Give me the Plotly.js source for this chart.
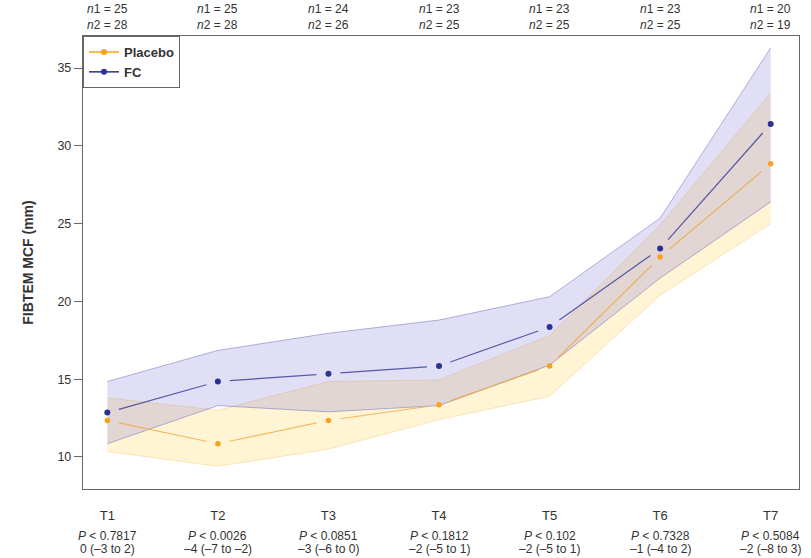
<!DOCTYPE html>
<html>
<head>
<meta charset="utf-8">
<script src="https://cdn.plot.ly/plotly-3.0.1.min.js"></script>
<style>html,body{margin:0;padding:0;background:#fff;}#chart{width:811px;height:558px;}</style>
</head>
<body>
<div id="chart"></div>
<script>
// ---- data ----
var timepoints = ["T1", "T2", "T3", "T4", "T5", "T6", "T7"];
var placeboMean  = [12.35, 10.85, 12.35, 13.35, 15.85, 22.85, 28.85];
var placeboUpper = [13.8, 13.0, 14.85, 14.95, 17.8, 24.9, 33.4];
var placeboLower = [10.35, 9.4, 10.5, 12.4, 13.9, 20.4, 25.0];
var fcMean  = [12.85, 14.85, 15.35, 15.85, 18.35, 23.4, 31.4];
var fcUpper = [14.85, 16.85, 17.95, 18.8, 20.3, 25.35, 36.3];
var fcLower = [10.85, 13.3, 12.9, 13.3, 15.9, 21.5, 26.4];
var n1 = [25, 25, 24, 23, 23, 23, 20];
var n2 = [28, 28, 26, 25, 25, 25, 19];
var pValues = ["0.7817", "0.0026", "0.0851", "0.1812", "0.102", "0.7328", "0.5084"];
var diffCI = ["0 (\u20133 to 2)", "\u20134 (\u20137 to \u20132)", "\u20133 (\u20136 to 0)", "\u20132 (\u20135 to 1)", "\u20132 (\u20135 to 1)", "\u20131 (\u20134 to 2)", "\u20132 (\u20138 to 3)"];

var xs = timepoints.map(function(_, i){ return i; });
var ORANGE = "#F7A21B", BLUE = "#2B3293";
var FONT = "Liberation Sans Narrow, Arial Narrow, Liberation Sans, Arial, sans-serif";

var W = 811, H = 558, M = {l: 83, r: 12, t: 36, b: 69};
var XR = [-0.22, 6.256], YR = [7.94, 37.06];
var pxX = (W - M.l - M.r) / (XR[1] - XR[0]);
var pxY = (H - M.t - M.b) / (YR[1] - YR[0]);

// line segments that stop a fixed screen distance short of each marker
function gapped(y, gapPx) {
  var gx = [], gy = [];
  for (var i = 0; i < y.length - 1; i++) {
    var dx = xs[i+1] - xs[i], dy = y[i+1] - y[i];
    var len = Math.sqrt(Math.pow(dx * pxX, 2) + Math.pow(dy * pxY, 2));
    var t = gapPx / len;
    gx.push(xs[i] + dx * t, xs[i+1] - dx * t, null);
    gy.push(y[i] + dy * t, y[i+1] - dy * t, null);
  }
  return {x: gx, y: gy};
}

function band(lower, upper, fill, edge) {
  return [
    {x: xs, y: lower, mode: "lines", line: {color: edge, width: 0.8}, showlegend: false, hoverinfo: "skip"},
    {x: xs, y: upper, mode: "lines", line: {color: edge, width: 0.8}, fill: "tonexty", fillcolor: fill, showlegend: false, hoverinfo: "skip"}
  ];
}

var pg = gapped(placeboMean, 12), fg = gapped(fcMean, 12);
var traces = []
  .concat(band(placeboLower, placeboUpper, "rgba(255,214,102,0.28)", "rgba(245,190,90,0.45)"))
  .concat(band(fcLower, fcUpper, "rgba(120,110,210,0.22)", "rgba(100,100,190,0.6)"))
  .concat([
    {x: pg.x, y: pg.y, mode: "lines", line: {color: "rgba(240,165,60,0.75)", width: 1.2}, showlegend: false, hoverinfo: "skip", connectgaps: false},
    {x: fg.x, y: fg.y, mode: "lines", line: {color: "rgba(50,55,150,0.8)", width: 1.2}, showlegend: false, hoverinfo: "skip", connectgaps: false},
    {x: xs, y: placeboMean, name: "Placebo", mode: "markers", marker: {color: ORANGE, size: 5.5}, showlegend: false},
    {x: xs, y: fcMean, name: "FC", mode: "markers", marker: {color: BLUE, size: 6}, showlegend: false},
    // legend entries
    {x: [null], y: [null], name: "Placebo", mode: "lines+markers", line: {color: ORANGE, width: 1.5}, marker: {color: ORANGE, size: 6}},
    {x: [null], y: [null], name: "FC", mode: "lines+markers", line: {color: BLUE, width: 1.5}, marker: {color: BLUE, size: 6}}
  ]);

var annotations = [];
for (var i = 0; i < xs.length; i++) {
  annotations.push({x: xs[i], xref: "x", y: 1, yref: "paper", yshift: 27, text: "<i>n</i>1 = " + n1[i], showarrow: false, font: {family: FONT, size: 12, color: "#333"}, xanchor: "center", yanchor: "middle"});
  annotations.push({x: xs[i], xref: "x", y: 1, yref: "paper", yshift: 11, text: "<i>n</i>2 = " + n2[i], showarrow: false, font: {family: FONT, size: 12, color: "#333"}, xanchor: "center", yanchor: "middle"});
  annotations.push({x: xs[i], xref: "x", y: 0, yref: "paper", yshift: -47, text: "<i>P</i> < " + pValues[i], showarrow: false, font: {family: FONT, size: 12, color: "#333"}, xanchor: "center", yanchor: "middle"});
  annotations.push({x: xs[i], xref: "x", y: 0, yref: "paper", yshift: -60, text: diffCI[i], showarrow: false, font: {family: FONT, size: 12, color: "#333"}, xanchor: "center", yanchor: "middle"});
}

var layout = {
  width: W, height: H,
  margin: M,
  paper_bgcolor: "#fff", plot_bgcolor: "#fff",
  font: {family: FONT, size: 12, color: "#333"},
  showlegend: true,
  legend: {x: 0, y: 1, xanchor: "left", yanchor: "top", bgcolor: "#fff", bordercolor: "#666", borderwidth: 1,
           traceorder: "normal",
           font: {family: "Liberation Sans, Arial, sans-serif", size: 13, color: "#333", weight: "bold"}, itemwidth: 30, tracegroupgap: 0},
  xaxis: {range: XR, tickvals: xs, ticktext: timepoints, showgrid: false, zeroline: false,
          showline: true, mirror: true, linecolor: "#666", linewidth: 1.2, ticks: "", ticklabelstandoff: 14,
          tickfont: {family: FONT, size: 13, color: "#333"}},
  yaxis: {range: YR, tickvals: [10, 15, 20, 25, 30, 35], showgrid: false, zeroline: false,
          showline: true, mirror: true, linecolor: "#666", linewidth: 1.2, ticks: "outside", ticklen: 8, tickcolor: "#666",
          tickfont: {family: FONT, size: 12.5, color: "#333"},
          title: {text: "FIBTEM MCF (mm)", standoff: 20, font: {family: "Liberation Sans, Arial, sans-serif", size: 14, color: "#333", weight: "bold"}}},
  annotations: annotations
};

Plotly.newPlot("chart", traces, layout, {displayModeBar: false, staticPlot: true});
</script>
</body>
</html>
